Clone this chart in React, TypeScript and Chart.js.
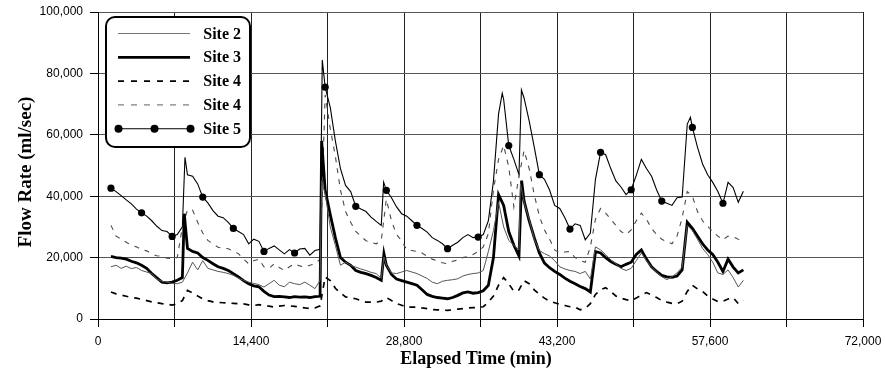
import React, { useEffect, useRef } from "react";
import { Chart, registerables } from "chart.js";

Chart.register(...registerables);

// ---- data (flow rates in thousand ml/sec, sampled every 480 min from 1220 min) ----
const T_START = 1220;
const T_STEP = 480;
const MARKER_STEP = 2880; // Site 5 markers every 2880 min

const SITE2 = [
  17.0, 17.5, 16.5, 17.2, 16.4, 16.8, 15.8, 15.3, 14.8, 13.0,
  12.3, 12.0, 11.6, 11.5, 12.0, 15.0, 18.5, 16.0, 19.0, 16.5,
  16.0, 15.5, 15.2, 14.8, 14.2, 13.3, 12.6, 12.0, 11.6, 11.2,
  10.4, 11.5, 12.6, 11.0, 10.5, 12.0, 11.5, 11.2, 12.0, 11.0,
  9.9, 12.6, 40.8, 30.0, 24.0, 17.5, 18.5, 17.5, 16.9, 16.3,
  15.8, 15.2, 14.8, 13.3, 17.5, 15.0, 14.8, 15.3, 15.8, 15.3,
  14.8, 14.0, 13.2, 12.0, 11.5, 12.3, 12.6, 12.8, 13.1, 14.0,
  14.5, 14.8, 15.0, 15.8, 22.0, 28.8, 38.0, 30.0, 25.6, 24.0,
  22.5, 38.0, 32.5, 26.0, 22.3, 21.3, 20.5, 19.0, 17.0, 16.3,
  15.8, 15.5, 14.8, 15.5, 13.0, 23.5, 22.5, 21.0, 19.3, 18.0,
  16.5, 15.8, 16.5, 19.0, 21.5, 19.0, 17.0, 15.2, 13.8, 12.8,
  13.8, 15.0, 16.9, 30.5, 28.8, 26.0, 23.0, 21.0, 18.5, 15.0,
  14.5, 16.0, 13.5, 10.4, 12.6,
];
const SITE2_EXTRA: [number, number][] = [[21050, 45.0], [26913, 20.2], [39757, 44.0]];

const SITE3 = [
  20.4, 20.0, 19.8, 19.5, 18.8, 18.3, 17.5, 16.5, 14.8, 13.4,
  12.0, 11.8, 12.0, 12.6, 13.5, 23.0, 22.0, 21.5, 20.0, 19.1,
  18.0, 17.0, 16.5, 15.8, 14.8, 13.7, 12.5, 11.5, 10.8, 10.5,
  9.0, 7.8, 7.3, 7.4, 7.2, 7.0, 7.3, 7.1, 7.2, 7.0,
  7.3, 7.4, 42.0, 34.0, 26.5, 20.0, 18.5, 17.5, 15.8, 15.2,
  14.8, 14.2, 13.5, 12.6, 17.5, 14.5, 13.0, 12.5, 12.0, 11.5,
  11.0, 9.5, 8.0, 7.4, 7.0, 6.8, 6.6, 7.0, 7.7, 8.5,
  8.8, 8.4, 8.6, 9.2, 11.0, 20.0, 40.5, 37.0, 28.5, 24.0,
  20.5, 38.5, 32.0, 26.5, 21.5, 18.2, 16.7, 15.5, 14.5, 13.3,
  12.3, 11.5, 10.6, 9.9, 8.8, 22.0, 21.5, 20.0, 18.7, 17.8,
  17.0, 17.8, 18.5, 21.0, 22.5, 19.5, 17.0, 15.5, 14.2, 13.7,
  13.6, 14.0, 16.0, 31.5, 29.5, 27.0, 24.5, 22.5, 21.0, 18.5,
  15.5, 19.5, 16.9, 15.0, 16.0,
];
const SITE3_EXTRA: [number, number][] = [[8121, 34.3], [21050, 58.0], [26913, 21.3], [39870, 45.1]];

const SITE4A = [
  8.8, 8.2, 7.8, 7.4, 7.0, 6.8, 6.4, 6.0, 5.6, 5.3,
  5.0, 4.8, 4.5, 5.0, 6.0, 9.3, 8.5, 7.5, 6.6, 6.0,
  5.6, 5.4, 5.3, 5.2, 5.1, 5.0, 4.9, 4.6, 4.4, 4.7,
  4.3, 4.2, 3.9, 4.2, 4.4, 4.3, 4.1, 3.9, 3.6, 3.4,
  3.6, 4.3, 13.7, 12.5, 10.0, 8.5, 7.2, 6.9, 6.6, 6.0,
  5.5, 5.5, 5.5, 5.8, 7.0, 6.0, 5.0, 4.5, 3.9, 3.9,
  3.9, 3.6, 3.4, 3.1, 3.0, 2.9, 2.8, 3.0, 3.2, 3.4,
  3.6, 3.7, 3.8, 4.0, 5.5, 7.5, 11.0, 13.5, 11.5, 9.0,
  9.5, 12.5, 11.5, 9.5, 8.0, 6.8, 5.8, 5.3, 4.8, 4.4,
  4.0, 3.9, 3.0, 3.5, 5.0, 8.0, 9.5, 10.2, 9.0, 7.5,
  6.8, 6.3, 6.0, 6.8, 7.8, 8.6, 7.8, 7.0, 6.0, 5.5,
  5.1, 5.0, 5.8, 9.0, 11.0, 9.8, 9.0, 7.5, 6.5, 5.7,
  5.8, 6.5, 7.0, 5.0, 6.0,
];

const SITE4B = [
  30.5, 27.0, 26.0, 25.0, 24.0, 23.5, 22.6, 22.2, 21.2, 20.6,
  20.4, 19.8, 19.6, 20.0, 30.0, 35.5, 35.5, 31.5, 28.0, 25.6,
  24.5, 23.4, 23.0, 22.9, 22.0, 21.3, 19.5, 18.0, 19.0, 19.5,
  17.0, 16.5, 18.0, 16.8, 15.8, 17.0, 18.0, 17.3, 16.9, 17.5,
  18.0, 19.5, 73.0, 62.0, 53.0, 42.0, 35.0, 31.5, 28.5, 27.0,
  25.5, 25.0, 24.5, 25.6, 39.0, 32.0, 27.5, 25.5, 22.5, 22.3,
  22.0, 21.5, 20.4, 19.5, 18.9, 18.3, 18.0, 18.8, 19.2, 20.0,
  20.4, 21.0, 22.0, 23.5, 27.8, 42.0, 52.0, 56.5, 49.5, 36.5,
  46.5, 54.9, 49.0, 40.5, 33.5, 29.0, 26.0, 22.5, 21.5, 21.8,
  22.0, 20.0, 19.0, 18.5, 23.5, 32.5, 36.0, 34.5, 32.5, 30.5,
  28.5, 27.5, 29.0, 32.0, 34.5, 32.5, 29.5, 27.5, 26.0, 25.2,
  24.5, 27.0, 33.0, 41.5, 40.0, 35.0, 32.0, 30.2, 28.5, 27.0,
  25.8, 27.0, 26.8, 26.0, 25.5,
];

const SITE5 = [
  42.6, 41.5, 40.2, 38.8, 37.5, 35.8, 34.6, 33.5, 32.0, 30.2,
  28.8, 28.5, 26.9, 27.5, 30.0, 47.0, 46.5, 44.0, 39.7, 37.8,
  35.3, 33.5, 33.0, 31.5, 29.5, 28.5, 27.5, 24.5, 26.0, 25.3,
  22.0, 23.0, 23.8, 22.5, 21.2, 22.6, 21.5, 22.8, 23.0, 20.8,
  22.3, 22.7, 75.5, 68.9, 58.0, 49.0, 43.5, 41.5, 36.7, 35.8,
  35.0, 33.2, 31.8, 30.5, 41.9, 39.5, 36.5, 34.3, 33.5, 32.0,
  30.5, 29.5, 28.3, 26.5, 25.6, 24.5, 22.9, 24.0, 25.0, 26.5,
  27.5, 26.5, 26.7, 27.5, 32.0, 45.0, 66.8, 71.5, 56.5, 52.0,
  47.0, 72.0, 64.5, 56.0, 47.0, 45.5, 42.0, 37.0, 36.0, 33.0,
  29.3, 31.0, 30.5, 25.8, 28.0, 45.5, 54.3, 53.5, 49.0, 45.0,
  43.0, 40.5, 42.1, 46.8, 52.0, 49.0, 46.5, 42.0, 38.4, 37.7,
  37.0, 39.5, 39.7, 63.5, 62.4, 56.0, 50.5, 47.0, 44.5, 41.5,
  37.7, 44.5, 42.8, 38.0, 41.6,
];
const SITE5_EXTRA: [number, number][] = [
  [8187, 52.7], [21107, 84.4], [26884, 44.6], [38046, 73.5], [39851, 74.6], [55756, 65.7],
];

const SERIES_NAMES = ["Site 2", "Site 3", "Site 4", "Site 4", "Site 5"];

const X_MIN = 0;
const X_MAX = 72000;
const X_GRID_STEP = 7200;
const X_LABEL_STEP = 14400;
const Y_MIN = 0;
const Y_MAX = 100000;
const Y_STEP = 20000;

const X_TITLE = "Elapsed Time (min)";
const Y_TITLE = "Flow Rate (ml/sec)";

function buildPoints(vals: number[], extra: [number, number][] = []) {
  const pts = vals.map((v, i) => ({ x: T_START + i * T_STEP, y: v * 1000 }));
  extra.forEach(([t, v]) => pts.push({ x: t, y: v * 1000 }));
  pts.sort((a, b) => a.x - b.x);
  return pts;
}

const STYLES = [
  { color: "#555555", width: 1, dash: [] as number[], marker: false },
  { color: "#000000", width: 2.8, dash: [] as number[], marker: false },
  { color: "#000000", width: 1.7, dash: [6, 6], marker: false },
  { color: "#4a4a4a", width: 1.1, dash: [5, 6], marker: false },
  { color: "#000000", width: 1.1, dash: [] as number[], marker: true },
];

const legendPlugin = {
  id: "boxLegend",
  afterDraw(chart: any) {
    const ctx = chart.ctx as CanvasRenderingContext2D;
    ctx.save();
    const bx = 106, by = 17, bw = 144, bh = 130;
    ctx.beginPath();
    (ctx as any).roundRect(bx, by, bw, bh, 9);
    ctx.fillStyle = "#ffffff";
    ctx.fill();
    ctx.lineWidth = 2;
    ctx.strokeStyle = "#000000";
    ctx.stroke();
    SERIES_NAMES.forEach((name, k) => {
      const st = STYLES[k];
      const cy = 33.5 + k * 23.8;
      ctx.beginPath();
      ctx.setLineDash(st.dash.length ? [6, 7] : []);
      ctx.lineWidth = st.width;
      ctx.strokeStyle = k === 3 ? "#808080" : k === 0 ? "#777777" : st.color;
      ctx.moveTo(118, cy);
      ctx.lineTo(190, cy);
      ctx.stroke();
      ctx.setLineDash([]);
      if (st.marker) {
        [118.5, 154.5, 190.5].forEach((mx) => {
          ctx.beginPath();
          ctx.arc(mx, cy, 4, 0, Math.PI * 2);
          ctx.fillStyle = "#000";
          ctx.fill();
        });
      }
      ctx.fillStyle = "#000";
      ctx.font = 'bold 16px "Liberation Serif", "Times New Roman", serif';
      ctx.textAlign = "right";
      ctx.textBaseline = "middle";
      ctx.fillText(name, 241, cy + 1);
    });
    // axis titles
    ctx.fillStyle = "#000";
    ctx.font = 'bold 18px "Liberation Serif", "Times New Roman", serif';
    ctx.textAlign = "center";
    ctx.textBaseline = "alphabetic";
    ctx.fillText(X_TITLE, 476, 364);
    ctx.save();
    ctx.translate(31, 172);
    ctx.rotate(-Math.PI / 2);
    ctx.font = 'bold 19px "Liberation Serif", "Times New Roman", serif';
    ctx.fillText(Y_TITLE, 0, 0);
    ctx.restore();
    ctx.restore();
  },
};

export default function App() {
  const ref = useRef<HTMLCanvasElement | null>(null);
  useEffect(() => {
    if (!ref.current) return;
    const seriesData = [
      buildPoints(SITE2, SITE2_EXTRA),
      buildPoints(SITE3, SITE3_EXTRA),
      buildPoints(SITE4A),
      buildPoints(SITE4B),
      buildPoints(SITE5, SITE5_EXTRA),
    ];
    const datasets = seriesData.map((data, k) => {
      const st = STYLES[k];
      return {
        label: SERIES_NAMES[k],
        data,
        borderColor: st.color,
        borderWidth: st.width,
        borderDash: st.dash,
        backgroundColor: st.color,
        fill: false,
        tension: 0,
        pointRadius: st.marker
          ? (c: any) => {
              const x = c.raw ? c.raw.x : 0;
              return (x - T_START) % MARKER_STEP === 0 ? 3.6 : 0;
            }
          : 0,
        pointBackgroundColor: "#000",
        pointBorderWidth: 0,
        pointHoverRadius: 0,
      };
    });
    const chart = new Chart(ref.current, {
      type: "line",
      data: { datasets: datasets as any },
      options: {
        animation: false,
        responsive: false,
        devicePixelRatio: 1,
        events: [],
        layout: { padding: { top: 12, right: 22, left: 0, bottom: 0 } },
        plugins: { legend: { display: false }, tooltip: { enabled: false } },
        scales: {
          x: {
            type: "linear",
            min: X_MIN,
            max: X_MAX,
            afterFit: (s: any) => {
              s.height = 53;
              s.paddingLeft = 0;
              s.paddingRight = 0;
            },
            afterBuildTicks: (s: any) => {
              const t = [];
              for (let v = X_MIN; v <= X_MAX; v += X_GRID_STEP) t.push({ value: v });
              s.ticks = t;
            },
            ticks: {
              autoSkip: false,
              maxRotation: 0,
              padding: 7,
              color: "#000",
              font: { family: '"Liberation Sans", Arial, sans-serif', size: 12 },
              callback: (v: any) => (Number(v) % X_LABEL_STEP === 0 ? Number(v).toLocaleString("en-US") : ""),
            },
            grid: { color: "#222", lineWidth: 1, tickLength: 8, tickColor: "#000" },
            border: { color: "#000", width: 1 },
          },
          y: {
            type: "linear",
            min: Y_MIN,
            max: Y_MAX,
            afterFit: (s: any) => {
              s.width = 98;
              s.paddingTop = 0;
              s.paddingBottom = 0;
            },
            ticks: {
              stepSize: Y_STEP,
              padding: 7,
              color: "#000",
              font: { family: '"Liberation Sans", Arial, sans-serif', size: 12 },
              callback: (v: any) => Number(v).toLocaleString("en-US"),
            },
            grid: { color: "#555", lineWidth: 1, tickLength: 8, tickColor: "#000" },
            border: { color: "#000", width: 1 },
          },
        },
      },
      plugins: [legendPlugin],
    });
    return () => chart.destroy();
  }, []);
  return (
    <div style={{ position: "absolute", left: 0, top: 0, width: 885, height: 372, background: "#fff" }}>
      <canvas ref={ref} width={885} height={372} style={{ display: "block" }} />
    </div>
  );
}
